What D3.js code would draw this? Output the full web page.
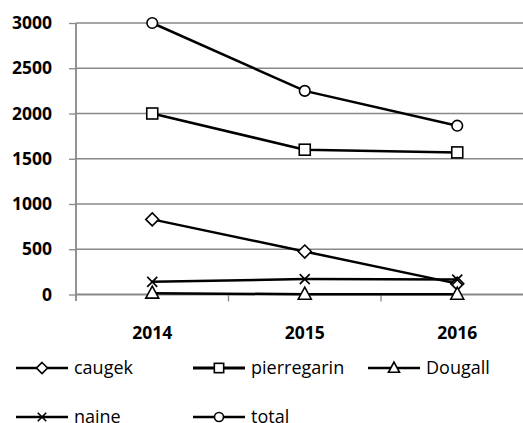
<!DOCTYPE html>
<html><head><meta charset="utf-8">
<script src="https://cdn.jsdelivr.net/npm/d3@7"></script>
<style>
body{margin:0;background:#fff;}
svg{display:block;}
text{font-family:"Open Sans",sans-serif;}
</style></head>
<body>
<svg id="chart" width="523" height="423"></svg>
<script>
const categories = ["2014","2015","2016"];
const caugek = [830, 475, 120];
const pierregarin = [2000, 1600, 1570];
const dougall = [15, 3, 3];
const naine = [140, 170, 165];
const total = [3000, 2250, 1865];
const yTicks = [0, 500, 1000, 1500, 2000, 2500, 3000];

const seriesList = [
  {name:"caugek", values:caugek, marker:"diamond", width:2.5},
  {name:"pierregarin", values:pierregarin, marker:"square", width:2.5},
  {name:"Dougall", values:dougall, marker:"triangle", width:2.5},
  {name:"naine", values:naine, marker:"x", width:2.5},
  {name:"total", values:total, marker:"circle", width:2.5}
];

const svg = d3.select("#chart");
const plotLeft = 76, plotBottom = 294.5, plotTop = 23;
const x = d3.scaleBand().domain(categories).range([plotLeft, plotLeft + 3*152.5]).padding(0);
const y = d3.scaleLinear().domain([0, 3000]).range([plotBottom, plotTop]);
const cx = c => x(c) + x.bandwidth()/2;
const grid = "#888888";

// gridlines
svg.append("g").selectAll("line").data(yTicks.filter(t => t > 0)).join("line")
  .attr("x1", plotLeft).attr("x2", 523).attr("y1", d => y(d)).attr("y2", d => y(d))
  .attr("stroke", grid).attr("stroke-width", 1.3);

// y axis
const yAxis = svg.append("g").attr("transform", `translate(${plotLeft},0)`)
  .call(d3.axisLeft(y).tickValues(yTicks).tickSize(7).tickPadding(17).tickFormat(d3.format("d")));
yAxis.select(".domain").attr("stroke", grid).attr("stroke-width", 1.8).attr("d", `M0,${y(0)+6.5}V${y(3000)}`);
yAxis.selectAll(".tick line").attr("stroke", grid).attr("stroke-width", 1.3);
yAxis.selectAll(".tick text").attr("font-family", "Open Sans").attr("font-weight", "bold")
  .attr("font-size", 17.5).attr("fill", "#000");

// x axis line
svg.append("line").attr("x1", plotLeft).attr("x2", 523).attr("y1", y(0)).attr("y2", y(0))
  .attr("stroke", grid).attr("stroke-width", 1.8);
// x tick marks at band boundaries
svg.append("g").selectAll("line").data(categories.slice(1)).join("line")
  .attr("x1", d => x(d)).attr("x2", d => x(d)).attr("y1", y(0)).attr("y2", y(0) + 7)
  .attr("stroke", grid).attr("stroke-width", 1.3);
// x labels
svg.append("g").selectAll("text").data(categories).join("text")
  .attr("x", d => cx(d)).attr("y", 338.5).attr("text-anchor", "middle")
  .attr("font-weight", "bold").attr("font-size", 17.5).text(d => d);

function drawMarker(g, type, px, py, s) {
  s = s || 1;
  if (type === "diamond") {
    g.append("path").attr("d", `M${px},${py-6.5*s}L${px+6.5*s},${py}L${px},${py+6.5*s}L${px-6.5*s},${py}Z`)
      .attr("fill", "#fff").attr("stroke", "#000").attr("stroke-width", 1.6);
  } else if (type === "square") {
    g.append("rect").attr("x", px-5.5*s).attr("y", py-5.5*s).attr("width", 11*s).attr("height", 11*s)
      .attr("fill", "#fff").attr("stroke", "#000").attr("stroke-width", 1.6);
  } else if (type === "triangle") {
    g.append("path").attr("d", `M${px},${py-7*s}L${px+6.5*s},${py+5*s}L${px-6.5*s},${py+5*s}Z`)
      .attr("fill", "#fff").attr("stroke", "#000").attr("stroke-width", 1.6);
  } else if (type === "x") {
    g.append("path").attr("d", `M${px-5*s},${py-5*s}L${px+5*s},${py+5*s}M${px+5*s},${py-5*s}L${px-5*s},${py+5*s}`)
      .attr("stroke", "#000").attr("stroke-width", 1.6);
  } else if (type === "circle") {
    g.append("circle").attr("cx", px).attr("cy", py).attr("r", 5.3*s)
      .attr("fill", "#fff").attr("stroke", "#000").attr("stroke-width", 1.6);
  }
}

const line = d3.line().x((d,i) => cx(categories[i])).y(d => y(d));
seriesList.forEach(s => {
  const g = svg.append("g");
  g.append("path").attr("d", line(s.values)).attr("fill", "none")
    .attr("stroke", "#000").attr("stroke-width", s.width);
  s.values.forEach((v,i) => drawMarker(g, s.marker, cx(categories[i]), y(v)));
});

// legend
const legPos = [[16,368],[193,368],[368,368],[16,417],[193,417]];
seriesList.forEach((s,i) => {
  const [lx, ly] = legPos[i];
  const g = svg.append("g");
  g.append("line").attr("x1", lx).attr("x2", lx+52).attr("y1", ly).attr("y2", ly)
    .attr("stroke", "#000").attr("stroke-width", s.name === "pierregarin" ? 3 : 2.5);
  drawMarker(g, s.marker, lx+26, ly, 0.85);
  g.append("text").attr("x", lx+58).attr("y", ly+6).attr("font-size", 18).text(s.name);
});
</script>
</body></html>
